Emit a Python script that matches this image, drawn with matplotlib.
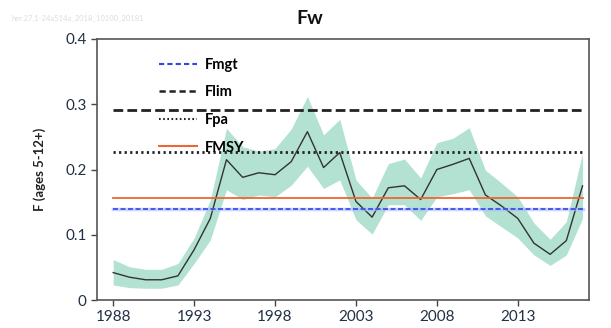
import matplotlib
matplotlib.use("Agg")
import matplotlib.pyplot as plt
from matplotlib.lines import Line2D

years = list(range(1988, 2018))
f_est = [0.042, 0.035, 0.031, 0.031, 0.037, 0.077, 0.125, 0.215, 0.188, 0.195,
         0.192, 0.212, 0.258, 0.203, 0.226, 0.151, 0.127, 0.172, 0.175, 0.154,
         0.200, 0.208, 0.217, 0.161, 0.144, 0.125, 0.087, 0.070, 0.091, 0.175]
f_upper = [0.062, 0.051, 0.047, 0.047, 0.056, 0.095, 0.153, 0.263, 0.235, 0.228,
           0.232, 0.262, 0.312, 0.253, 0.277, 0.184, 0.156, 0.209, 0.216, 0.187,
           0.241, 0.248, 0.264, 0.199, 0.179, 0.158, 0.118, 0.093, 0.120, 0.225]
f_lower = [0.023, 0.019, 0.018, 0.018, 0.023, 0.056, 0.092, 0.169, 0.154, 0.161,
           0.158, 0.176, 0.205, 0.171, 0.184, 0.123, 0.101, 0.146, 0.146, 0.122,
           0.158, 0.163, 0.169, 0.129, 0.112, 0.095, 0.069, 0.053, 0.069, 0.125]
ref_names = ["Fmgt", "Flim", "Fpa", "FMSY"]
ref_values = [0.140, 0.291, 0.227, 0.157]
xticks = [1988, 1993, 1998, 2003, 2008, 2013]
yticks = [0, 0.1, 0.2, 0.3, 0.4]

plt.rcParams['font.family'] = ['Lato', 'DejaVu Sans']
fig = plt.figure(figsize=(6.11, 3.28), dpi=100)
ax = fig.add_axes([97/611, 1-300/328, (589-97)/611, (300-39)/328])

ax.fill_between(years, f_lower, f_upper, color='#b3e1d2', lw=0)
ax.plot(years, f_est, color='#333333', lw=1.0)

x0, x1 = years[0], years[-1]
# Fmgt
ax.plot([x0, x1], [ref_values[0]]*2, color='#a9b8ff', lw=2.5, alpha=0.6)
ax.plot([x0, x1], [ref_values[0]]*2, color='#3344ee', lw=1.2, ls=(0, (3, 1.5)))
# Flim
ax.plot([x0, x1], [ref_values[1]]*2, color='#222222', lw=2.0, ls=(0, (3.5, 1.5)))
# Fpa
ax.plot([x0, x1], [ref_values[2]]*2, color='#222222', lw=2.0, ls=(0, (0.8, 1.2)))
# FMSY
ax.plot([x0, x1], [ref_values[3]]*2, color='#ee6633', lw=1.3)

ax.set_xlim(1987.0, 2017.4)
ax.set_ylim(0, 0.4)
ax.set_xticks(xticks)
ax.set_xticklabels([str(x) for x in xticks])
ax.set_yticks(yticks)
ax.set_yticklabels(['0', '0.1', '0.2', '0.3', '0.4'])
ax.tick_params(labelsize=11, colors='#444444', labelcolor='#223044', length=4, width=1)
for s in ax.spines.values():
    s.set_color('#555555')
    s.set_linewidth(1.2)

ax.set_ylabel('F (ages 5-12+)', fontsize=9.5, fontweight='bold', color='#222222', labelpad=14)
fig.text(310/611, 1-18/328, 'Fw', ha='center', va='center', fontsize=14, fontweight='bold', color='#111111')
fig.text(12/611, 1-18/328, 'her.27.1-24a514a_2018_10100_20181', ha='left', va='center',
         fontsize=5.5, color='#dddddd')

handles = [
    Line2D([], [], color='#3344ee', lw=1.5, ls=(0, (2.5, 1.5))),
    Line2D([], [], color='#222222', lw=1.8, ls=(0, (2.5, 1.5))),
    Line2D([], [], color='#222222', lw=1.5, ls=(0, (0.8, 1.2))),
    Line2D([], [], color='#ee6633', lw=1.5),
]
leg = ax.legend(handles, ref_names, loc='upper left', bbox_to_anchor=(0.1, 0.978),
                frameon=False, prop={'weight': 'bold', 'size': 10.5},
                handlelength=2.6, labelspacing=0.93, handletextpad=0.5)

fig.savefig('out.png', dpi=100)
